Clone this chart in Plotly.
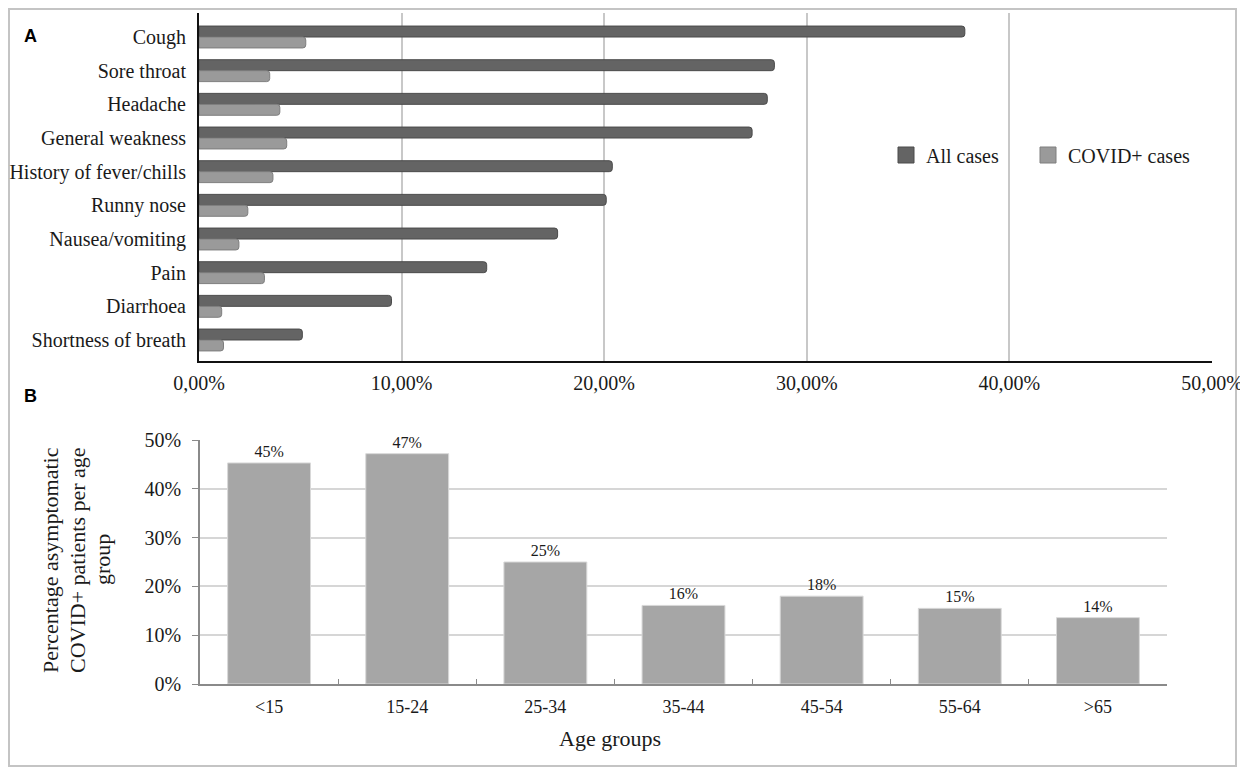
import plotly.graph_objects as go

# page draws the figure 8px in from the top-left corner, so work in reference
# pixels and shift by that body margin
OFF = 8
W, H = 1248 - OFF, 772 - OFF

# panel A: symptoms
symptoms = ["Cough", "Sore throat", "Headache", "General weakness",
            "History of fever/chills", "Runny nose", "Nausea/vomiting",
            "Pain", "Diarrhoea", "Shortness of breath"]
all_cases = [37.8, 28.4, 28.05, 27.3, 20.4, 20.1, 17.7, 14.2, 9.5, 5.1]
covid_cases = [5.27, 3.49, 3.99, 4.33, 3.65, 2.41, 1.97, 3.23, 1.12, 1.21]
a_ticks = [0, 10, 20, 30, 40, 50]
a_ticktext = ["0,00%", "10,00%", "20,00%", "30,00%", "40,00%", "50,00%"]

# panel B: asymptomatic share per age group
age_groups = ["<15", "15-24", "25-34", "35-44", "45-54", "55-64", ">65"]
asympt = [45.3, 47.2, 25.0, 16.1, 18.0, 15.5, 13.6]
asympt_labels = ["45%", "47%", "25%", "16%", "18%", "15%", "14%"]
b_ticks = [0, 10, 20, 30, 40, 50]
b_ticktext = ["0%", "10%", "20%", "30%", "40%", "50%"]

dark, light, bgrey = "#646464", "#9a9a9a", "#a6a6a6"


def px_x(p):
    return (p - OFF) / W


def px_y(p):
    return 1 - (p - OFF) / H


serif = "Liberation Serif"
ink = "#1a1a1a"

fig = go.Figure()

fig.add_trace(go.Bar(
    y=symptoms, x=all_cases, orientation="h", name="All cases", showlegend=False,
    marker=dict(color=dark, line=dict(color="#4a4a4a", width=1), cornerradius=3),
    xaxis="x", yaxis="y",
))
fig.add_trace(go.Bar(
    y=symptoms, x=covid_cases, orientation="h", name="COVID+ cases", showlegend=False,
    marker=dict(color=light, line=dict(color="#7e7e7e", width=1), cornerradius=3),
    xaxis="x", yaxis="y",
))
# legend entries with bigger squares than the bar legend icons,
# one legend each so the gap between them can be set
for nm, col, ln, lg in [("All cases", dark, "#4a4a4a", "legend"),
                        ("COVID+ cases", light, "#7e7e7e", "legend2")]:
    fig.add_trace(go.Scatter(
        x=[None], y=[None], mode="markers", name=nm, legend=lg,
        marker=dict(symbol="square", size=18, color=col, line=dict(color=ln, width=1)),
        xaxis="x", yaxis="y",
    ))
fig.add_trace(go.Bar(
    x=age_groups, y=asympt, name="asymptomatic", showlegend=False,
    marker=dict(color=bgrey, line=dict(color="#d8d8d8", width=1)),
    text=asympt_labels, textposition="outside", cliponaxis=False,
    textfont=dict(family=serif, size=16, color=ink),
    xaxis="x2", yaxis="y2", width=0.6,
))

legend_style = dict(
    orientation="h", xanchor="left", yanchor="middle",
    font=dict(family=serif, size=20, color=ink), bgcolor="rgba(0,0,0,0)",
    itemclick=False, itemdoubleclick=False,
)

fig.update_layout(
    width=W, height=H,
    margin=dict(l=0, r=0, t=0, b=0),
    template="none",
    paper_bgcolor="white", plot_bgcolor="white",
    font=dict(family=serif, size=20, color=ink),
    barmode="group", bargap=0.35, bargroupgap=0,
    xaxis=dict(
        domain=[px_x(199), px_x(1212)], anchor="y", range=[0, 50],
        tickvals=a_ticks, ticktext=a_ticktext, ticks="",
        showgrid=True, gridcolor="#c8c8c8", gridwidth=1.5,
        showline=True, linecolor="#111111", linewidth=2,
        zeroline=False, automargin=False, ticklabelstandoff=3,
        tickfont=dict(size=20),
    ),
    yaxis=dict(
        domain=[px_y(361), px_y(13)], anchor="x", range=[9.624, -0.713],
        type="category", categoryorder="array", categoryarray=symptoms,
        ticks="", showgrid=False,
        showline=True, linecolor="#111111", linewidth=2,
        automargin=False, ticklabelstandoff=7,
        tickfont=dict(size=20),
    ),
    xaxis2=dict(
        domain=[px_x(200), px_x(1167)], anchor="y2", range=[-0.5, 6.5],
        type="category", ticks="inside", tickson="boundaries", ticklen=5,
        tickcolor="#8a8a8a", showgrid=False,
        showline=True, linecolor="#8a8a8a", linewidth=1.5,
        automargin=False, ticklabelstandoff=6,
        tickfont=dict(size=18),
    ),
    yaxis2=dict(
        domain=[px_y(684), px_y(440)], anchor="x2", range=[0, 50],
        tickvals=b_ticks, ticktext=b_ticktext,
        ticks="outside", ticklen=6, tickcolor="#8a8a8a",
        showgrid=True, gridcolor="#d6d6d6", gridwidth=1.5,
        showline=True, linecolor="#8a8a8a", linewidth=1.5,
        zeroline=False, automargin=False, ticklabelstandoff=7,
        tickfont=dict(size=20),
    ),
    legend=dict(x=px_x(886), y=px_y(155), **legend_style),
    legend2=dict(x=px_x(1028), y=px_y(155), **legend_style),
    showlegend=True,
)

fig.add_annotation(
    x=px_x(30), y=px_y(36), xref="paper", yref="paper", text="<b>A</b>",
    xanchor="center", yanchor="middle", showarrow=False,
    font=dict(family="Liberation Sans", size=18, color="#000"),
)
fig.add_annotation(
    x=px_x(30), y=px_y(396), xref="paper", yref="paper", text="<b>B</b>",
    xanchor="center", yanchor="middle", showarrow=False,
    font=dict(family="Liberation Sans", size=18, color="#000"),
)
title_lines = ["Percentage asymptomatic", "COVID+ patients per age", "group"]
for line, xpx in zip(title_lines, [50, 77, 102]):
    fig.add_annotation(
        x=px_x(xpx), y=px_y(560), xref="paper", yref="paper", text=line,
        textangle=-90, xanchor="center", yanchor="middle", showarrow=False,
        font=dict(family=serif, size=22, color=ink),
    )
fig.add_annotation(
    x=px_x(610), y=px_y(738), xref="paper", yref="paper", text="Age groups",
    xanchor="center", yanchor="middle", showarrow=False,
    font=dict(family=serif, size=22, color=ink),
)

fig.add_shape(
    type="rect", xref="paper", yref="paper",
    x0=px_x(9), x1=px_x(1236), y0=px_y(766), y1=px_y(9),
    line=dict(color="#c4c4c4", width=2), layer="below",
)

fig.write_html("out.html")
